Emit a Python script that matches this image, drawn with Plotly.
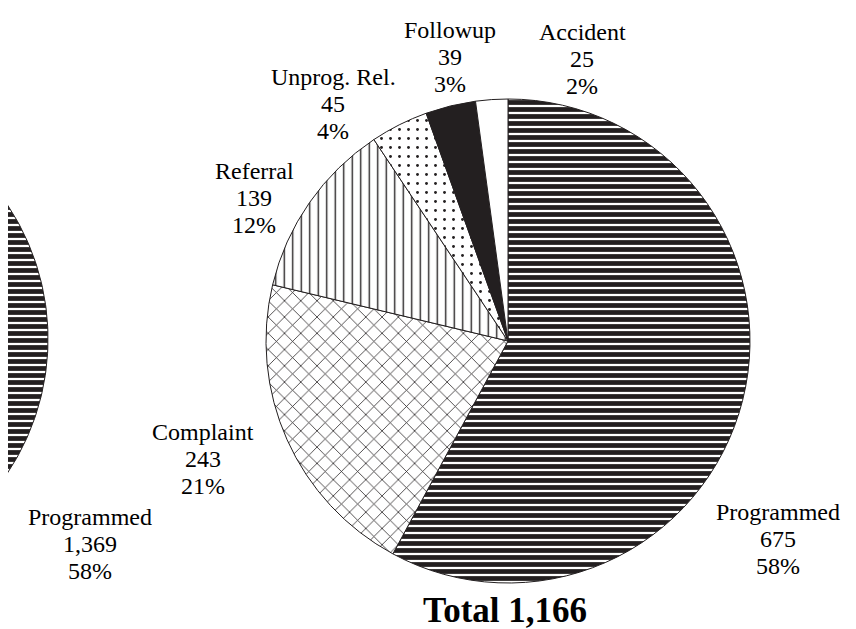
import numpy as np
import plotly.graph_objects as go

# right pie (full)
labels = ["Programmed", "Complaint", "Referral", "Unprog. Rel.", "Followup", "Accident"]
values = [675, 243, 139, 45, 39, 25]
total_text = "Total 1,166"

# left pie (only the Programmed slice shows in this crop)
left_labels = ["Programmed"]
left_values = [1369]
left_pcts = [58]

W, H = 856, 629
ink = "#231f20"
font = "Times New Roman, Liberation Serif, serif"

# patterns per slice
patterns = {
    "Programmed": dict(shape="-", size=7, solidity=0.68, fgcolor=ink, bgcolor="white"),
    "Complaint": dict(shape="x", size=11.5, solidity=0.13, fgcolor=ink, bgcolor="white"),
    "Referral": dict(shape="|", size=8.5, solidity=0.16, fgcolor=ink, bgcolor="white"),
    "Unprog. Rel.": dict(shape=".", size=9, solidity=0.08, fgcolor=ink, bgcolor="white"),
    "Followup": dict(shape="", fgcolor=ink, bgcolor=ink),
    "Accident": dict(shape="", fgcolor="white", bgcolor="white"),
}
colors = {"Followup": ink}

# pie geometry in pixels
cx, cy, r = 500, 333, 242
lcx, lcy = -202, 331

fig = go.Figure()

# left pie: draw the Programmed sector on pixel-scaled axes so it gets clipped
frac = left_pcts[0] / 100
ang = np.linspace(0, 2 * np.pi * frac, 200)
sx = np.concatenate([[lcx], lcx + r * np.sin(ang), [lcx]])
sy = np.concatenate([[lcy], lcy - r * np.cos(ang), [lcy]])
fig.add_trace(go.Scatter(
    x=sx, y=sy, mode="lines", fill="toself",
    fillcolor="white",
    fillpattern=dict(patterns["Programmed"], fgopacity=1, fillmode="replace"),
    line=dict(color=ink, width=1),
    hoverinfo="skip", showlegend=False,
))

fig.add_trace(go.Pie(
    labels=labels, values=values, sort=False,
    direction="clockwise", rotation=0,
    textinfo="none", showlegend=False,
    marker=dict(
        colors=[colors.get(l, "white") for l in labels],
        pattern=dict(
            shape=[patterns[l]["shape"] for l in labels],
            size=[patterns[l].get("size", 8) for l in labels],
            solidity=[patterns[l].get("solidity", 0.3) for l in labels],
            fgcolor=[patterns[l]["fgcolor"] for l in labels],
            bgcolor=[patterns[l]["bgcolor"] for l in labels],
            fgopacity=1,
            fillmode="replace",
        ),
        line=dict(color=ink, width=1),
    ),
    domain=dict(x=[(cx - r) / W, (cx + r) / W], y=[(H - cy - r) / H, (H - cy + r) / H]),
))

# label blocks: x centre, y centre of first line (pixels)
label_pos = {
    "Programmed": (770, 504),
    "Complaint": (195, 424),
    "Referral": (246, 163),
    "Unprog. Rel.": (325, 69),
    "Followup": (442, 22),
    "Accident": (574, 24),
}
left_pos = {"Programmed": (82, 509)}
step = 26.8

total = sum(values)
blocks = []
for l, v in zip(labels, values):
    blocks.append((label_pos[l], [l, f"{v:,}", f"{round(100 * v / total)}%"]))
for l, v, p in zip(left_labels, left_values, left_pcts):
    blocks.append((left_pos[l], [l, f"{v:,}", f"{p}%"]))

annotations = []
for (x0, y0), lines in blocks:
    for i, t in enumerate(lines):
        annotations.append(dict(
            x=x0, y=y0 + i * step, xref="x", yref="y", text=t, showarrow=False,
            xanchor="center", yanchor="middle", borderpad=0,
            font=dict(family=font, size=24, color="black"),
        ))
annotations.append(dict(
    x=497, y=602, xref="x", yref="y", text=f"<b>{total_text}</b>", showarrow=False,
    xanchor="center", yanchor="middle", borderpad=0,
    font=dict(family=font, size=35, color="black"),
))

fig.update_layout(
    width=W, height=H,
    margin=dict(l=0, r=0, t=0, b=0),
    paper_bgcolor="white", plot_bgcolor="white",
    font=dict(family=font),
    xaxis=dict(range=[0, W], visible=False, fixedrange=True),
    yaxis=dict(range=[H, 0], visible=False, fixedrange=True),
    annotations=annotations,
)

fig.write_html("out.html")
